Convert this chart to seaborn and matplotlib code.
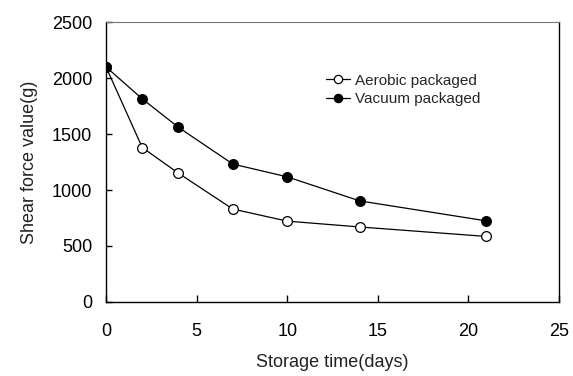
import matplotlib
matplotlib.use("Agg")
import matplotlib.pyplot as plt
import seaborn as sns
import pandas as pd

days = [0, 2, 4, 7, 10, 14, 21]
aerobic = [2100, 1380, 1150, 830, 722, 670, 585]
vacuum = [2100, 1815, 1560, 1232, 1118, 903, 724]
x_ticks = [0, 5, 10, 15, 20, 25]
y_ticks = [0, 500, 1000, 1500, 2000, 2500]

sns.set_theme(style="white")
plt.rcParams['font.family'] = ['Liberation Sans', 'DejaVu Sans']

df = pd.DataFrame({
    "day": days * 2,
    "value": aerobic + vacuum,
    "series": ["Aerobic packaged"] * len(days) + ["Vacuum packaged"] * len(days),
})

fig = plt.figure(figsize=(5.73, 3.76), dpi=100)
ax = fig.add_axes([0.185, 0.197, 0.7905, 0.744])

for name, face in [("Aerobic packaged", "white"), ("Vacuum packaged", "black")]:
    sub = df[df.series == name]
    sns.lineplot(data=sub, x="day", y="value", ax=ax, color="black", linewidth=0.9,
                 marker="o", markersize=7, markerfacecolor=face,
                 markeredgecolor="black", markeredgewidth=0.9, label=name)

ax.set_xlim(0, 25)
ax.set_ylim(0, 2500)
ax.set_xticks(x_ticks)
ax.set_yticks(y_ticks)
ax.tick_params(axis="x", direction="in", length=5, width=1, pad=15, labelsize=13, colors="black")
ax.tick_params(axis="y", direction="in", length=4, width=1, pad=10, labelsize=13, colors="black")
ax.tick_params(axis="x", which="both", bottom=True)
ax.tick_params(axis="y", which="both", left=True)
for s in ["left", "bottom", "right"]:
    ax.spines[s].set_color("black")
    ax.spines[s].set_linewidth(1.0)
ax.spines["top"].set_color("#777777")
ax.spines["top"].set_linewidth(0.8)

ax.set_xlabel("Storage time(days)", fontsize=13, labelpad=10, color="#222222")
ax.set_ylabel("Shear force value(g)", fontsize=13, labelpad=10, color="#222222")

leg = ax.legend(loc="upper left", bbox_to_anchor=(0.455, 0.865), frameon=False,
                fontsize=11, handlelength=1.6, handletextpad=0.3, labelspacing=0.3,
                markerscale=0.85)

fig.savefig("out.png", dpi=100)
